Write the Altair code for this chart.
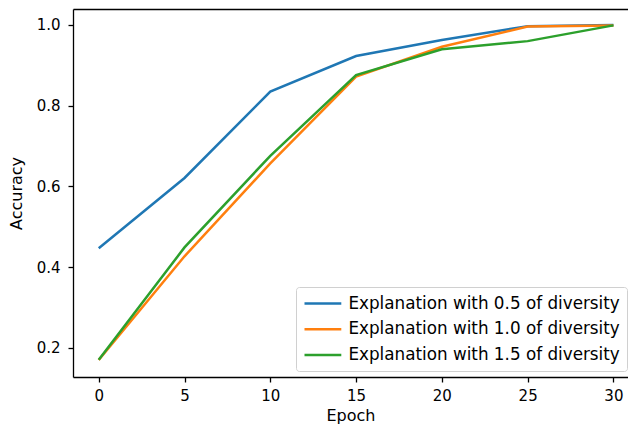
import altair as alt
import pandas as pd

epochs = [0, 5, 10, 15, 20, 25, 30]
series_names = [
    "Explanation with 0.5 of diversity",
    "Explanation with 1.0 of diversity",
    "Explanation with 1.5 of diversity",
]
acc_05 = [0.447, 0.621, 0.835, 0.923, 0.963, 0.997, 1.000]
acc_10 = [0.170, 0.427, 0.657, 0.872, 0.946, 0.996, 0.999]
acc_15 = [0.171, 0.449, 0.676, 0.876, 0.940, 0.960, 0.999]
colors = ["#1f77b4", "#ff7f0e", "#2ca02c"]

rows = []
for name, vals in zip(series_names, [acc_05, acc_10, acc_15]):
    for e, v in zip(epochs, vals):
        rows.append({"Epoch": e, "Accuracy": v, "Series": name})
df = pd.DataFrame(rows)

FONT = "DejaVu Sans"
xscale = alt.Scale(domain=[-1.5, 30.85], nice=False, zero=False)
yscale = alt.Scale(domain=[0.128, 1.0396], nice=False, zero=False)

yaxis = alt.Axis(values=[0.2, 0.4, 0.6, 0.8, 1.0], format=".1f", title="Accuracy",
                 grid=False, labelFontSize=15, titleFontSize=16, labelFont=FONT,
                 titleFont=FONT, labelColor="black", titleColor="black",
                 tickColor="black", domainColor="black", domainWidth=1.3,
                 tickWidth=1.3, tickSize=5, labelPadding=8, titlePadding=12,
                 titleFontWeight="normal")

lines = alt.Chart(df).mark_line(strokeWidth=2.5, clip=True).encode(
    x=alt.X("Epoch:Q", scale=xscale,
            axis=alt.Axis(values=epochs, title="Epoch", grid=False,
                          labelFontSize=15, titleFontSize=16, labelFont=FONT, titleFont=FONT,
                          labelColor="black", titleColor="black", tickColor="black",
                          domainColor="black", domainWidth=1.3, tickWidth=1.3, tickSize=5,
                          labelPadding=6, titlePadding=4, titleFontWeight="normal")),
    y=alt.Y("Accuracy:Q", scale=yscale, axis=yaxis),
    color=alt.Color("Series:N", scale=alt.Scale(domain=series_names, range=colors),
                    legend=alt.Legend(title=None, orient="none", legendX=223, legendY=278,
                                      symbolType="M-2.3,0H2.3", symbolStrokeWidth=2.5,
                                      symbolSize=256, symbolOffset=10.4,
                                      labelFontSize=16.8, labelFont=FONT,
                                      labelColor="black", labelOffset=16, rowPadding=6.7,
                                      labelLimit=500,
                                      padding=7, strokeColor="#d0d0d0", fillColor="white",
                                      cornerRadius=3)),
    order=alt.Order("Epoch:Q"),
)

top = alt.Chart(df).mark_point(opacity=0).encode(
    x=alt.X("Epoch:Q", scale=xscale,
            axis=alt.Axis(orient="top", title=None, labels=False, ticks=False, grid=False,
                          domainColor="black", domainWidth=1.3)),
    y=alt.Y("Accuracy:Q", scale=yscale, axis=yaxis),
)

chart = alt.layer(lines, top).resolve_axis(x="independent").properties(
    width=555, height=368,
    padding={"left": 65, "top": 1, "right": 0, "bottom": 47},
    autosize=alt.AutoSizeParams(type="none"),
).configure_view(stroke=None)

chart.save("out.html", embed_options={"renderer": "svg", "actions": False})
